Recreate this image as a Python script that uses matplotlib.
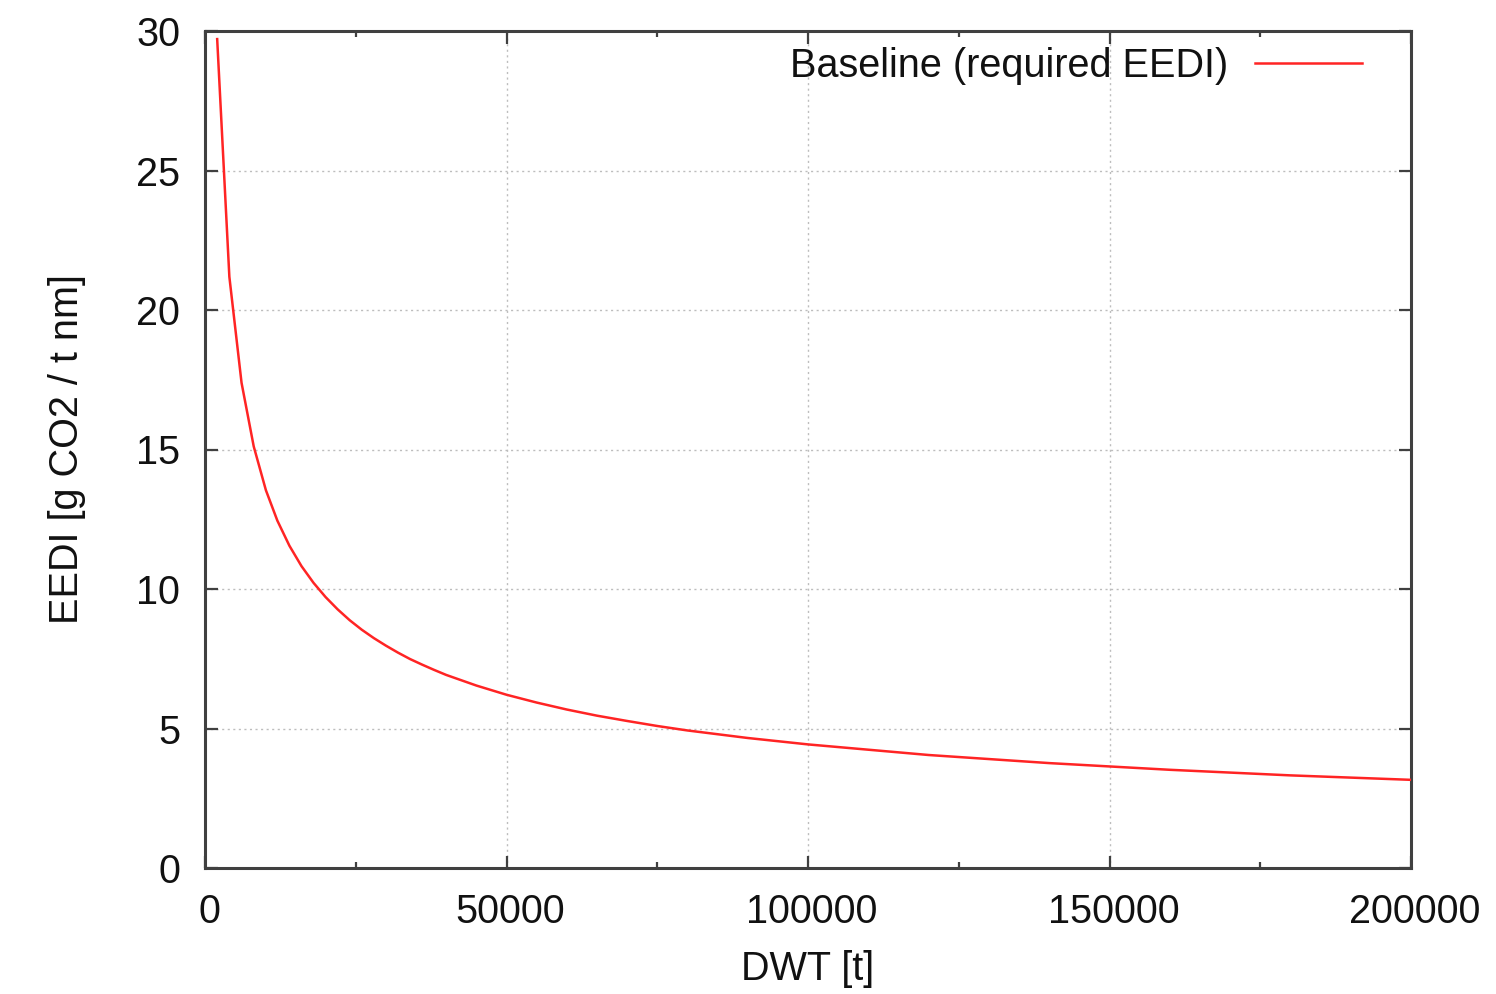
import matplotlib
matplotlib.use("Agg")
import matplotlib.pyplot as plt
import matplotlib.transforms as mtransforms
from matplotlib.ticker import MultipleLocator

# Required EEDI baseline values (g CO2 / t nm) against deadweight (t)
dwt = [2020, 4040, 6061, 8081, 10101, 12000, 14000, 16000, 18000, 20000,
       22000, 24000, 26000, 28000, 30000, 32000, 34000, 36000, 38000, 40000,
       45000, 50000, 55000, 60000, 65000, 70000, 75000, 80000, 90000,
       100000, 120000, 140000, 160000, 180000, 200000]
eedi = [29.71, 21.19, 17.39, 15.11, 13.54, 12.45, 11.55, 10.82, 10.22, 9.71,
        9.27, 8.88, 8.54, 8.24, 7.97, 7.72, 7.49, 7.29, 7.10, 6.92,
        6.54, 6.21, 5.93, 5.68, 5.46, 5.27, 5.09, 4.93, 4.66,
        4.43, 4.05, 3.76, 3.52, 3.32, 3.16]

series_label = "Baseline (required EEDI)"
x_label = "DWT [t]"
y_label = "EEDI [g CO2 / t nm]"
x_ticks = [0, 50000, 100000, 150000, 200000]
y_ticks = [0, 5, 10, 15, 20, 25, 30]

plt.rcParams['font.family'] = ['Liberation Sans', 'DejaVu Sans']
FS = 28.5
W, H = 1496, 994
fig = plt.figure(figsize=(W / 100, H / 100), dpi=100)
ax = fig.add_axes([205 / W, 1 - 868 / H, (1411 - 205) / W, (868 - 31) / H])

ax.plot(dwt, eedi, color='#ff2424', lw=1.8, label=series_label, zorder=3)

ax.set_xlim(0, 200000)
ax.set_ylim(0, 30)
ax.set_xticks(x_ticks)
ax.set_xticklabels([str(v) for v in x_ticks])
ax.set_yticks(y_ticks)
ax.set_yticklabels([str(v) for v in y_ticks])
ax.xaxis.set_minor_locator(MultipleLocator(25000))

ax.grid(True, which='major', color='#bdbdbd', linestyle=(0, (1.5, 2.5)), lw=1.0)
ax.tick_params(which='both', direction='in', top=True, right=True,
               color='#404040', labelsize=FS, labelcolor='#111111')
ax.tick_params(which='major', length=9, width=1.6)
ax.tick_params(which='minor', length=4.5, width=1.6)
ax.tick_params(axis='y', pad=18)
ax.tick_params(axis='x', pad=18)

# nudge x tick labels slightly to the right
shift = mtransforms.ScaledTranslation(4 / 100, 0, fig.dpi_scale_trans)
for lbl in ax.get_xticklabels():
    lbl.set_transform(lbl.get_transform() + shift)

for sp in ax.spines.values():
    sp.set_color('#404040')
    sp.set_linewidth(2.2)

ax.set_xlabel(x_label, fontsize=FS, color='#111111', labelpad=14)
ax.set_ylabel(y_label, fontsize=FS, color='#111111', labelpad=36)

leg = ax.legend(loc='upper right', markerfirst=False, frameon=False,
                fontsize=FS, handlelength=2.7, handletextpad=0.68,
                borderaxespad=0.0,
                bbox_to_anchor=(1378 / W, 1 - 31 / H),
                bbox_transform=fig.transFigure)
for t in leg.get_texts():
    t.set_color('#111111')

fig.savefig("out.png", dpi=100)
